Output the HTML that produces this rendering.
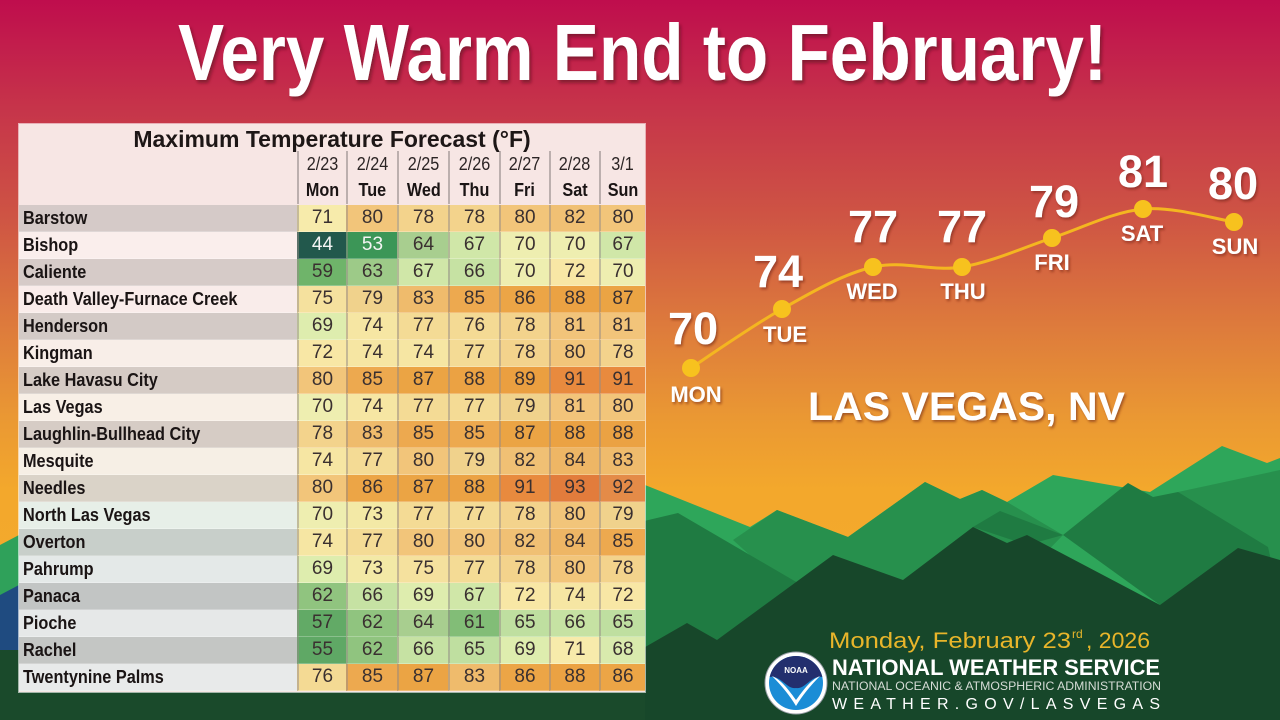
<!DOCTYPE html>
<html><head><meta charset="utf-8">
<style>
html,body{margin:0;padding:0;}
body{width:1280px;height:720px;overflow:hidden;position:relative;font-family:"Liberation Sans",sans-serif;}
svg.bg{position:absolute;left:0;top:0;}
.tbl{position:absolute;left:19px;top:124px;width:626px;height:568px;background:#f7e6e4;box-shadow:0 0 0 1px rgba(255,255,255,.6);}
.ttl{position:absolute;left:0;top:0;width:626px;height:30px;line-height:30px;text-align:center;font-family:"Liberation Sans Narrow","Liberation Sans",sans-serif;font-weight:bold;font-size:23px;color:#1d1616;}
.g{position:absolute;left:0;display:grid;grid-template-columns:278px 49px 51px 51px 51px 50px 50px 46px;}
.hd{top:27px;grid-template-rows:26px 27px;}
.bd{top:81px;grid-auto-rows:27px;}
.g div{box-sizing:border-box;font-family:"Liberation Sans Narrow","Liberation Sans",sans-serif;display:flex;align-items:center;justify-content:center;}
.hd div{font-size:18px;color:#2b2424;border-left:2px solid rgba(140,130,130,.55);}
.hd div span{display:inline-block;transform:scaleX(0.9);}
.hd div.e{border-left:none;}
.hd div.d{font-weight:bold;color:#1a1414;}
.bd div{font-size:19px;color:#3a3030;border-left:2px solid rgba(150,140,135,.5);border-bottom:1px solid rgba(255,255,255,.25);}
.bd div.n{justify-content:flex-start;padding-left:4px;font-weight:bold;font-size:18.5px;color:#1a1414;border-left:none;}
.bd div.n span{display:inline-block;transform:scaleX(0.88);transform-origin:0 50%;white-space:nowrap;}
.r0{background:#d5cac8}.r1{background:#faeeec}.r2{background:#d6cbc8}.r3{background:#f9ecea}.r4{background:#d3cac6}.r5{background:#f8eee8}
.r6{background:#d5cbc5}.r7{background:#f8efe6}.r8{background:#d6ccc5}.r9{background:#f6efe5}.r10{background:#dad3c8}.r11{background:#e7efe8}
.r12{background:#c8cfca}.r13{background:#e4e9e8}.r14{background:#c2c5c4}.r15{background:#e6e8e8}.r16{background:#c4c6c4}.r17{background:#e8eaea}
.v44{background:#22584c;color:#f4f4f4!important}.v53{background:#3c9657;color:#f4f4f4!important}.v55{background:#5fa865}.v57{background:#62aa66}
.v59{background:#6fb46a}.v61{background:#82bd77}.v62{background:#90c47f}.v63{background:#9dca88}.v64{background:#a8ce8f}.v65{background:#bfdfa0}
.v66{background:#c6e2a3}.v67{background:#d0e7a8}.v68{background:#d9eaad}.v69{background:#deedae}.v70{background:#eeeeb0}.v71{background:#f7ebab}
.v72{background:#f8e7a5}.v73{background:#f3e9a6}.v74{background:#f6e6a3}.v75{background:#f5e19e}.v76{background:#f4da94}.v77{background:#f4db95}
.v78{background:#f3d38c}.v79{background:#f0d28c}.v80{background:#f2c57a}.v81{background:#f2c47a}.v82{background:#f0c074}.v83{background:#efbb6c}
.v84{background:#eeb665}.v85{background:#eda94f}.v86{background:#eca546}.v87{background:#eba444}.v88{background:#eba243}.v89{background:#eb9f40}
.v91{background:#e88a3e}.v92{background:#e48b48}.v93{background:#e27c3c}
</style></head>
<body>
<svg class="bg" width="1280" height="720" viewBox="0 0 1280 720" xmlns="http://www.w3.org/2000/svg">
<defs>
<linearGradient id="sky" x1="0" y1="0" x2="0" y2="1">
<stop offset="0" stop-color="#bf0d4d"/>
<stop offset="0.15" stop-color="#c6344a"/>
<stop offset="0.3" stop-color="#ce5444"/>
<stop offset="0.45" stop-color="#dd7a3c"/>
<stop offset="0.58" stop-color="#ea9833"/>
<stop offset="0.68" stop-color="#f3a82c"/>
<stop offset="1" stop-color="#f5ac2a"/>
</linearGradient>
<linearGradient id="hz" x1="0" y1="0" x2="1" y2="0">
<stop offset="0" stop-color="#d05a18" stop-opacity="0"/>
<stop offset="0.5" stop-color="#d05a18" stop-opacity="0.7"/>
<stop offset="1" stop-color="#d05a18" stop-opacity="0"/>
</linearGradient>
<filter id="sh" x="-5%" y="-20%" width="110%" height="150%"><feDropShadow dx="2" dy="3" stdDeviation="1.5" flood-color="#5a0a20" flood-opacity="0.6"/></filter>
<filter id="sh2" x="-20%" y="-30%" width="140%" height="160%"><feDropShadow dx="1.5" dy="2" stdDeviation="1.2" flood-color="#6a2010" flood-opacity="0.55"/></filter>
<clipPath id="lc"><circle cx="796" cy="683" r="27"/></clipPath>
</defs>
<rect width="1280" height="720" fill="url(#sky)"/>
<line x1="690" y1="448" x2="1210" y2="448" stroke="url(#hz)" stroke-width="1.5"/>
<polygon fill="#2ea65a" points="640,483 750,527 777,510 848,537 925,482 960,499 982,490 1007,502 1053,475 1150,492 1222,446 1267,463 1280,458 1280,720 640,720"/>
<polygon fill="#27904d" points="733,540 777,510 848,537 925,482 960,499 982,490 1007,502 1063,535 1000,600 800,600"/>
<polygon fill="#1f7b42" points="640,522 678,513 810,590 640,700"/>
<polygon fill="#1f7b42" points="973,527 1000,511 1063,535 1027,545"/>
<polygon fill="#27904d" points="1178,492 1280,470 1280,560 1240,550"/>
<polygon fill="#1f7b42" points="1063,535 1128,483 1153,497 1178,492 1268,547 1280,600 1160,605"/>
<polygon fill="#17472a" points="640,650 687,623 717,640 833,555 903,580 973,527 1007,543 1027,535 1160,605 1238,548 1280,560 1280,720 640,720"/>
<polygon fill="#2fa15a" points="0,545 19,535 19,720 0,720"/>
<polygon fill="#1f4b80" points="0,595 19,585 19,650 0,656"/>
<rect x="0" y="650" width="645" height="70" fill="#1a4a2b"/>
<text x="178" y="80" font-family="Liberation Sans, sans-serif" font-weight="bold" font-size="80" fill="#ffffff" textLength="929" lengthAdjust="spacingAndGlyphs" filter="url(#sh)">Very Warm End to February!</text>
<path d="M691,368 C706,358 752,326 782,309 C812,292 843,274 873,267 C903,260 932,272 962,267 C992,262 1022,248 1052,238 C1082,228 1113,212 1143,209 C1173,206 1219,220 1234,222" fill="none" stroke="#f4b620" stroke-width="3"/>
<g fill="#f7c21e">
<circle cx="691" cy="368" r="9"/><circle cx="782" cy="309" r="9"/><circle cx="873" cy="267" r="9"/><circle cx="962" cy="267" r="9"/><circle cx="1052" cy="238" r="9"/><circle cx="1143" cy="209" r="9"/><circle cx="1234" cy="222" r="9"/>
</g>
<g font-family="Liberation Sans, sans-serif" font-weight="bold" fill="#ffffff" text-anchor="middle" filter="url(#sh2)">
<text x="693" y="344" font-size="45">70</text>
<text x="778" y="287" font-size="45">74</text>
<text x="873" y="242" font-size="45">77</text>
<text x="962" y="242" font-size="45">77</text>
<text x="1054" y="217" font-size="45">79</text>
<text x="1143" y="187" font-size="45">81</text>
<text x="1233" y="199" font-size="45">80</text>
<text x="696" y="402" font-size="22">MON</text>
<text x="785" y="342" font-size="22">TUE</text>
<text x="872" y="299" font-size="22">WED</text>
<text x="963" y="299" font-size="22">THU</text>
<text x="1052" y="270" font-size="22">FRI</text>
<text x="1142" y="241" font-size="22">SAT</text>
<text x="1235" y="254" font-size="22">SUN</text>
</g>
<text x="808" y="420" font-family="Liberation Sans, sans-serif" font-weight="bold" font-size="40" fill="#ffffff" textLength="317" lengthAdjust="spacingAndGlyphs" filter="url(#sh2)">LAS VEGAS, NV</text>
<g font-family="Liberation Sans, sans-serif">
<text x="829" y="648" font-size="22" fill="#e8b52a" textLength="242" lengthAdjust="spacingAndGlyphs">Monday, February 23</text>
<text x="1072" y="638" font-size="12" fill="#e8b52a">rd</text>
<text x="1086" y="648" font-size="22" fill="#e8b52a" textLength="64" lengthAdjust="spacingAndGlyphs">, 2026</text>
<text x="832" y="675" font-size="22" font-weight="bold" fill="#ffffff" textLength="328" lengthAdjust="spacingAndGlyphs">NATIONAL WEATHER SERVICE</text>
<text x="832" y="690" font-size="11.5" fill="#d6dcd6" textLength="329" lengthAdjust="spacingAndGlyphs">NATIONAL OCEANIC &amp; ATMOSPHERIC ADMINISTRATION</text>
<text x="832" y="709" font-size="16" fill="#ffffff" textLength="328" lengthAdjust="spacing">WEATHER.GOV/LASVEGAS</text>
</g>
<circle cx="796" cy="683" r="31" fill="#ffffff" stroke="#9aa0a8" stroke-width="1"/>
<g clip-path="url(#lc)">
<rect x="766" y="653" width="60" height="60" fill="#1b8dd6"/>
<path d="M766,653 H826 V678 C812,672 806,690 796,688 C786,690 780,672 766,678 Z" fill="#232f6e"/>
<path d="M772,676 C782,680 790,692 796,700 C802,692 810,680 820,676 C810,686 802,696 796,706 C790,696 782,686 772,676 Z" fill="#ffffff"/>
</g>
<text x="796" y="673" font-family="Liberation Sans, sans-serif" font-weight="bold" font-size="8" fill="#ffffff" text-anchor="middle">NOAA</text>
</svg>

<div class="tbl">
<div class="ttl">Maximum Temperature Forecast (°F)</div>
<div class="g hd">
<div class="e"></div><div><span>2/23</span></div><div><span>2/24</span></div><div><span>2/25</span></div><div><span>2/26</span></div><div><span>2/27</span></div><div><span>2/28</span></div><div><span>3/1</span></div>
<div class="e"></div><div class="d"><span>Mon</span></div><div class="d"><span>Tue</span></div><div class="d"><span>Wed</span></div><div class="d"><span>Thu</span></div><div class="d"><span>Fri</span></div><div class="d"><span>Sat</span></div><div class="d"><span>Sun</span></div>
</div>
<div class="g bd">
<div class="n r0"><span>Barstow</span></div><div class="v71">71</div><div class="v80">80</div><div class="v78">78</div><div class="v78">78</div><div class="v80">80</div><div class="v82">82</div><div class="v80">80</div>
<div class="n r1"><span>Bishop</span></div><div class="v44">44</div><div class="v53">53</div><div class="v64">64</div><div class="v67">67</div><div class="v70">70</div><div class="v70">70</div><div class="v67">67</div>
<div class="n r2"><span>Caliente</span></div><div class="v59">59</div><div class="v63">63</div><div class="v67">67</div><div class="v66">66</div><div class="v70">70</div><div class="v72">72</div><div class="v70">70</div>
<div class="n r3"><span>Death Valley-Furnace Creek</span></div><div class="v75">75</div><div class="v79">79</div><div class="v83">83</div><div class="v85">85</div><div class="v86">86</div><div class="v88">88</div><div class="v87">87</div>
<div class="n r4"><span>Henderson</span></div><div class="v69">69</div><div class="v74">74</div><div class="v77">77</div><div class="v76">76</div><div class="v78">78</div><div class="v81">81</div><div class="v81">81</div>
<div class="n r5"><span>Kingman</span></div><div class="v72">72</div><div class="v74">74</div><div class="v74">74</div><div class="v77">77</div><div class="v78">78</div><div class="v80">80</div><div class="v78">78</div>
<div class="n r6"><span>Lake Havasu City</span></div><div class="v80">80</div><div class="v85">85</div><div class="v87">87</div><div class="v88">88</div><div class="v89">89</div><div class="v91">91</div><div class="v91">91</div>
<div class="n r7"><span>Las Vegas</span></div><div class="v70">70</div><div class="v74">74</div><div class="v77">77</div><div class="v77">77</div><div class="v79">79</div><div class="v81">81</div><div class="v80">80</div>
<div class="n r8"><span>Laughlin-Bullhead City</span></div><div class="v78">78</div><div class="v83">83</div><div class="v85">85</div><div class="v85">85</div><div class="v87">87</div><div class="v88">88</div><div class="v88">88</div>
<div class="n r9"><span>Mesquite</span></div><div class="v74">74</div><div class="v77">77</div><div class="v80">80</div><div class="v79">79</div><div class="v82">82</div><div class="v84">84</div><div class="v83">83</div>
<div class="n r10"><span>Needles</span></div><div class="v80">80</div><div class="v86">86</div><div class="v87">87</div><div class="v88">88</div><div class="v91">91</div><div class="v93">93</div><div class="v92">92</div>
<div class="n r11"><span>North Las Vegas</span></div><div class="v70">70</div><div class="v73">73</div><div class="v77">77</div><div class="v77">77</div><div class="v78">78</div><div class="v80">80</div><div class="v79">79</div>
<div class="n r12"><span>Overton</span></div><div class="v74">74</div><div class="v77">77</div><div class="v80">80</div><div class="v80">80</div><div class="v82">82</div><div class="v84">84</div><div class="v85">85</div>
<div class="n r13"><span>Pahrump</span></div><div class="v69">69</div><div class="v73">73</div><div class="v75">75</div><div class="v77">77</div><div class="v78">78</div><div class="v80">80</div><div class="v78">78</div>
<div class="n r14"><span>Panaca</span></div><div class="v62">62</div><div class="v66">66</div><div class="v69">69</div><div class="v67">67</div><div class="v72">72</div><div class="v74">74</div><div class="v72">72</div>
<div class="n r15"><span>Pioche</span></div><div class="v57">57</div><div class="v62">62</div><div class="v64">64</div><div class="v61">61</div><div class="v65">65</div><div class="v66">66</div><div class="v65">65</div>
<div class="n r16"><span>Rachel</span></div><div class="v55">55</div><div class="v62">62</div><div class="v66">66</div><div class="v65">65</div><div class="v69">69</div><div class="v71">71</div><div class="v68">68</div>
<div class="n r17"><span>Twentynine Palms</span></div><div class="v76">76</div><div class="v85">85</div><div class="v87">87</div><div class="v83">83</div><div class="v86">86</div><div class="v88">88</div><div class="v86">86</div>
</div>
</div>
</body></html>
